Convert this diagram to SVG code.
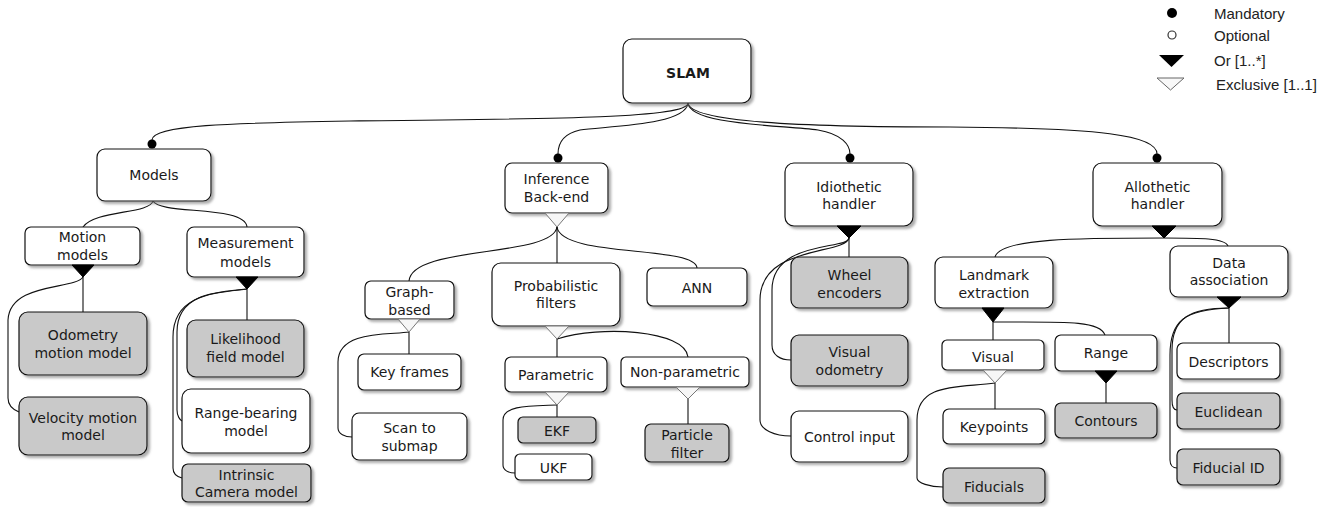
<svg xmlns="http://www.w3.org/2000/svg" width="1331" height="507" viewBox="0 0 1331 507">
<defs>
<filter id="sh" x="-10%" y="-10%" width="130%" height="140%">
<feDropShadow dx="2.5" dy="2.5" stdDeviation="1.2" flood-color="#777" flood-opacity="0.6"/>
</filter>
</defs>
<style>
.n{fill:#fff;stroke:#111;stroke-width:1.2;filter:url(#sh)}
.g{fill:#c9c9c9;stroke:#111;stroke-width:1.2;filter:url(#sh)}
.t{font-family:"DejaVu Sans",Verdana,sans-serif;font-size:14px;fill:#1a1a1a;text-anchor:middle}
.b{font-weight:bold}
.c{fill:none;stroke:#111;stroke-width:1.1}
.or{fill:#000;stroke:#000;stroke-width:1}
.ex{fill:#f6f6f6;stroke:#777;stroke-width:1}
.dot{fill:#000}
.lg{font-family:"Liberation Sans",Arial,sans-serif;font-size:15px;fill:#222}
</style>
<rect width="1331" height="507" fill="#fff"/>

<g id="connectors">
<path class="c" d="M688,103 C688,118 560,119 350,121 C230,123 152,125 152,140"/>
<path class="c" d="M688,103 C686,125 610,126 580,130 C562,134 558,145 558,154"/>
<path class="c" d="M688,103 C690,125 780,125 818,130 C842,134 850,145 850,154"/>
<path class="c" d="M688,103 C690,122 800,127 950,127 C1100,128 1157,135 1157,154"/>
<path class="c" d="M153,201 C150,214 95,210 83,227"/>
<path class="c" d="M153,201 C160,215 245,205 247,227"/>
<path class="c" d="M83,277 L83,312"/>
<path class="c" d="M83,277 C75,290 10,282 8,320 L8,398 C8,406 14,410 19,412"/>
<path class="c" d="M247,289 L247,320"/>
<path class="c" d="M247,289 C220,292 177,292 177,332 L177,410 C177,416 180,420 182,421"/>
<path class="c" d="M247,289 C215,293 173,294 173,337 L173,468 C173,474 178,477 182,478"/>
<path class="c" d="M557,227 L557,263"/>
<path class="c" d="M557,227 C552,258 412,245 409,281"/>
<path class="c" d="M557,227 C562,258 695,245 697,268"/>
<path class="c" d="M409,332 L409,354"/>
<path class="c" d="M409,332 C390,335 338,330 338,362 L338,428 C338,434 345,437 352,437"/>
<path class="c" d="M557,339 L557,357"/>
<path class="c" d="M557,339 C600,325 685,330 688,357"/>
<path class="c" d="M557,405 L557,417"/>
<path class="c" d="M557,405 C530,406 503,405 503,420 L503,465 C503,470 508,473 515,473"/>
<path class="c" d="M688,399 L688,424"/>
<path class="c" d="M849,238 L849,257"/>
<path class="c" d="M849,238 C848,250 772,240 772,290 L772,345 C772,355 780,360 791,360"/>
<path class="c" d="M849,238 C845,255 760,245 760,300 L760,420 C760,430 775,436 791,436"/>
<path class="c" d="M1164,238 C1080,238 1000,238 995,257"/>
<path class="c" d="M1164,238 C1200,238 1225,238 1228,246"/>
<path class="c" d="M1229,308 L1229,343"/>
<path class="c" d="M1229,308 C1190,308 1172,318 1172,350 L1172,400 C1172,406 1174,410 1177,410"/>
<path class="c" d="M1229,308 C1185,310 1170,320 1170,355 L1170,460 C1170,465 1173,468 1177,468"/>
<path class="c" d="M993,322 L993,340"/>
<path class="c" d="M993,322 C1060,322 1100,320 1105,335"/>
<path class="c" d="M995,383 L995,409"/>
<path class="c" d="M995,383 C960,388 917,382 917,420 L917,478 C917,483 930,487 943,487"/>
<path class="c" d="M1106,383 L1106,403"/>
</g>

<g id="n-slam"><rect class="n" x="623" y="39" width="128" height="64" rx="9"/><text class="t b" x="688" y="78">SLAM</text></g>
<g id="n-models"><rect class="n" x="97" y="149" width="114" height="52" rx="8"/><text class="t" x="154" y="180">Models</text></g>
<g id="n-motion"><rect class="n" x="25" y="227" width="115" height="38" rx="6"/><text class="t" x="82.5" y="242">Motion<tspan x="82.5" y="260">models</tspan></text></g>
<g id="n-measurement"><rect class="n" x="187" y="227" width="117" height="50" rx="7"/><text class="t" x="245.5" y="248">Measurement<tspan x="245.5" y="267">models</tspan></text></g>
<g id="n-odometry"><rect class="g" x="19" y="312" width="128" height="63" rx="9"/><text class="t" x="83" y="340">Odometry<tspan x="83" y="358">motion model</tspan></text></g>
<g id="n-velocity"><rect class="g" x="19" y="397" width="128" height="58" rx="9"/><text class="t" x="83" y="423">Velocity motion<tspan x="83" y="440">model</tspan></text></g>
<g id="n-likelihood"><rect class="g" x="187" y="320" width="117" height="57" rx="9"/><text class="t" x="245.5" y="344">Likelihood<tspan x="245.5" y="362">field model</tspan></text></g>
<g id="n-rangebearing"><rect class="n" x="182" y="389" width="128" height="64" rx="9"/><text class="t" x="246" y="418">Range-bearing<tspan x="246" y="436">model</tspan></text></g>
<g id="n-intrinsic"><rect class="g" x="182" y="464" width="129" height="38" rx="6"/><text class="t" x="246.5" y="480">Intrinsic<tspan x="246.5" y="497">Camera model</tspan></text></g>

<g id="n-inference"><rect class="n" x="505" y="163" width="103" height="50" rx="7"/><text class="t" x="556.5" y="184">Inference<tspan x="556.5" y="202">Back-end</tspan></text></g>
<g id="n-graph"><rect class="n" x="365" y="281" width="89" height="38" rx="6"/><text class="t" x="409.5" y="297">Graph-<tspan x="409.5" y="315">based</tspan></text></g>
<g id="n-prob"><rect class="n" x="492" y="263" width="128" height="63" rx="9"/><text class="t" x="556" y="291">Probabilistic<tspan x="556" y="308">filters</tspan></text></g>
<g id="n-ann"><rect class="n" x="647" y="268" width="100" height="38" rx="6"/><text class="t" x="697" y="293">ANN</text></g>
<g id="n-keyframes"><rect class="n" x="358" y="354" width="103" height="36" rx="6"/><text class="t" x="409.5" y="377">Key frames</text></g>
<g id="n-scan"><rect class="n" x="352" y="413" width="115" height="47" rx="7"/><text class="t" x="409.5" y="433">Scan to<tspan x="409.5" y="451">submap</tspan></text></g>
<g id="n-parametric"><rect class="n" x="505" y="357" width="102" height="35" rx="6"/><text class="t" x="556" y="380">Parametric</text></g>
<g id="n-nonparametric"><rect class="n" x="621" y="357" width="128" height="30" rx="5"/><text class="t" x="685" y="377">Non-parametric</text></g>
<g id="n-ekf"><rect class="g" x="518" y="417" width="78" height="26" rx="5"/><text class="t" x="557" y="436">EKF</text></g>
<g id="n-ukf"><rect class="n" x="515" y="454" width="77" height="26" rx="5"/><text class="t" x="553.5" y="473">UKF</text></g>
<g id="n-particle"><rect class="g" x="645" y="424" width="84" height="38" rx="6"/><text class="t" x="687" y="440">Particle<tspan x="687" y="458">filter</tspan></text></g>

<g id="n-idiothetic"><rect class="n" x="785" y="163" width="128" height="63" rx="9"/><text class="t" x="849" y="192">Idiothetic<tspan x="849" y="209">handler</tspan></text></g>
<g id="n-wheel"><rect class="g" x="791" y="257" width="117" height="51" rx="8"/><text class="t" x="849.5" y="280">Wheel<tspan x="849.5" y="298">encoders</tspan></text></g>
<g id="n-visodo"><rect class="g" x="791" y="335" width="117" height="51" rx="8"/><text class="t" x="849.5" y="357">Visual<tspan x="849.5" y="375">odometry</tspan></text></g>
<g id="n-control"><rect class="n" x="791" y="411" width="117" height="51" rx="8"/><text class="t" x="849.5" y="442">Control input</text></g>

<g id="n-allothetic"><rect class="n" x="1093" y="163" width="129" height="63" rx="9"/><text class="t" x="1157.5" y="192">Allothetic<tspan x="1157.5" y="209">handler</tspan></text></g>
<g id="n-landmark"><rect class="n" x="935" y="257" width="118" height="51" rx="8"/><text class="t" x="994" y="280">Landmark<tspan x="994" y="298">extraction</tspan></text></g>
<g id="n-visual"><rect class="n" x="942" y="340" width="102" height="30" rx="5"/><text class="t" x="993" y="362">Visual</text></g>
<g id="n-keypoints"><rect class="n" x="943" y="409" width="102" height="35" rx="6"/><text class="t" x="994" y="432">Keypoints</text></g>
<g id="n-fiducials"><rect class="g" x="943" y="468" width="102" height="35" rx="6"/><text class="t" x="994" y="492">Fiducials</text></g>
<g id="n-range"><rect class="n" x="1055" y="335" width="102" height="36" rx="6"/><text class="t" x="1106" y="358">Range</text></g>
<g id="n-contours"><rect class="g" x="1055" y="403" width="102" height="35" rx="6"/><text class="t" x="1106" y="426">Contours</text></g>
<g id="n-dataassoc"><rect class="n" x="1170" y="246" width="118" height="51" rx="8"/><text class="t" x="1229" y="268">Data<tspan x="1229" y="285">association</tspan></text></g>
<g id="n-descriptors"><rect class="n" x="1177" y="343" width="103" height="36" rx="6"/><text class="t" x="1228.5" y="367">Descriptors</text></g>
<g id="n-euclidean"><rect class="g" x="1177" y="393" width="103" height="36" rx="6"/><text class="t" x="1228.5" y="417">Euclidean</text></g>
<g id="n-fiducialid"><rect class="g" x="1177" y="449" width="103" height="36" rx="6"/><text class="t" x="1228.5" y="473">Fiducial ID</text></g>

<g id="decorators">
<circle class="dot" cx="152" cy="144" r="4.5"/>
<circle class="dot" cx="558" cy="158" r="4.5"/>
<circle class="dot" cx="850" cy="158" r="4.5"/>
<circle class="dot" cx="1157" cy="158" r="4.5"/>
<polygon class="or" points="72,265 94,265 83,277"/>
<polygon class="or" points="236,277 258,277 247,289"/>
<polygon class="ex" points="545,213 569,213 557,227"/>
<polygon class="ex" points="398,319 420,319 409,332"/>
<polygon class="ex" points="545,326 569,326 557,339"/>
<polygon class="ex" points="545,392 569,392 557,405"/>
<polygon class="ex" points="676,387 700,387 688,399"/>
<polygon class="or" points="837,226 861,226 849,238"/>
<polygon class="or" points="1152,226 1176,226 1164,238"/>
<polygon class="or" points="1217,297 1241,297 1229,308"/>
<polygon class="or" points="982,308 1004,308 993,322"/>
<polygon class="ex" points="983,370 1007,370 995,383"/>
<polygon class="or" points="1095,371 1117,371 1106,383"/>
</g>

<g id="legend">
<circle class="dot" cx="1172" cy="13" r="5"/>
<text class="lg" x="1214" y="19">Mandatory</text>
<circle cx="1172" cy="35" r="4" fill="#fff" stroke="#333" stroke-width="1.2"/>
<text class="lg" x="1214" y="41">Optional</text>
<polygon points="1159,55 1184,55 1171.5,67" fill="#000"/>
<text class="lg" x="1214" y="66">Or [1..*]</text>
<polygon points="1157,78 1184,78 1170.5,90" fill="#f8f8f8" stroke="#666" stroke-width="1"/>
<text class="lg" x="1216" y="90">Exclusive [1..1]</text>
</g>
</svg>
